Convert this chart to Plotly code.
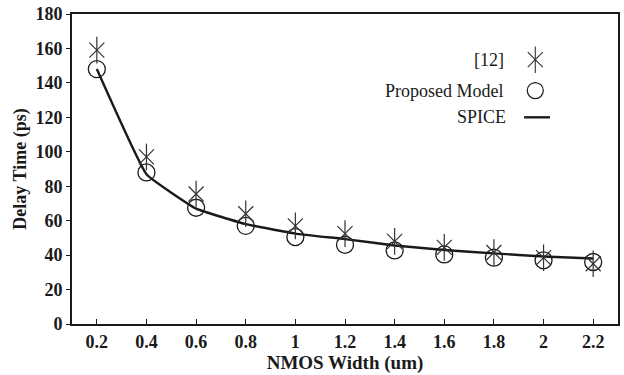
import plotly.graph_objects as go

width_um = [0.2, 0.4, 0.6, 0.8, 1.0, 1.2, 1.4, 1.6, 1.8, 2.0, 2.2]
ref12 = [159, 97, 75.5, 64, 57, 52.5, 48, 44.5, 41.5, 38.5, 35]
proposed = [148, 88, 67.5, 57, 50.5, 46, 42.7, 40.4, 38.5, 37, 36]
spice = [148, 87, 67, 58, 52.5, 49.3, 45.6, 43, 41, 39.2, 38]

x_ticks = [0.2, 0.4, 0.6, 0.8, 1, 1.2, 1.4, 1.6, 1.8, 2, 2.2]
x_tick_text = ["0.2", "0.4", "0.6", "0.8", "1", "1.2", "1.4", "1.6", "1.8", "2", "2.2"]
y_ticks = [0, 20, 40, 60, 80, 100, 120, 140, 160, 180]

legend_names = ["[12]", "Proposed Model", "SPICE"]

INK = "#1a1a1a"
MARK = "#333333"
SERIF = "Liberation Serif, Times New Roman, serif"

fig = go.Figure()

# SPICE line
fig.add_trace(go.Scatter(x=width_um, y=spice, mode="lines",
                         line=dict(color=INK, width=2.4, shape="spline", smoothing=0.3),
                         showlegend=False))
# Proposed model circles
fig.add_trace(go.Scatter(x=width_um, y=proposed, mode="markers",
                         marker=dict(symbol="circle-open", size=17, color=INK, line=dict(width=1.3, color=INK)),
                         showlegend=False))
# [12] asterisks (x + vertical bar = six-armed star)
fig.add_trace(go.Scatter(x=width_um, y=ref12, mode="markers",
                         marker=dict(symbol="x-thin-open", size=15, color=MARK, line=dict(width=1.2, color=MARK)),
                         showlegend=False))
fig.add_trace(go.Scatter(x=width_um, y=ref12, mode="markers",
                         marker=dict(symbol="line-ns-open", size=19, color=MARK, line=dict(width=1.2, color=MARK)),
                         showlegend=False))

# Custom legend (symbol to the right of text) on an overlay axis in plot-fraction units
leg_x = 0.8485
leg_y = [0.8526, 0.753, 0.6667]
text_x = [0.794, 0.794, 0.799]
fig.add_trace(go.Scatter(x=[leg_x], y=[leg_y[0]], xaxis="x2", yaxis="y2", mode="markers",
                         marker=dict(symbol="x-thin-open", size=15, color=MARK, line=dict(width=1.1, color=MARK)),
                         showlegend=False))
fig.add_trace(go.Scatter(x=[leg_x], y=[leg_y[0]], xaxis="x2", yaxis="y2", mode="markers",
                         marker=dict(symbol="line-ns-open", size=19, color=MARK, line=dict(width=1.1, color=MARK)),
                         showlegend=False))
fig.add_trace(go.Scatter(x=[leg_x], y=[leg_y[1]], xaxis="x2", yaxis="y2", mode="markers",
                         marker=dict(symbol="circle-open", size=16, color=INK, line=dict(width=1.2, color=INK)),
                         showlegend=False))
fig.add_trace(go.Scatter(x=[leg_x - 0.0205, leg_x + 0.027], y=[leg_y[2], leg_y[2]], xaxis="x2", yaxis="y2",
                         mode="lines", line=dict(color=INK, width=2.4), showlegend=False))

for name, tx, ty in zip(legend_names, text_x, leg_y):
    fig.add_annotation(x=tx, y=ty, xref="paper", yref="paper", text=name, showarrow=False,
                       xanchor="right", yanchor="middle", font=dict(family=SERIF, size=18, color=INK))

fig.update_layout(
    width=624, height=375,
    margin=dict(l=72, r=4, t=12, b=51),
    plot_bgcolor="white", paper_bgcolor="white",
    font=dict(family=SERIF, color=INK),
    xaxis=dict(range=[0.1, 2.3], tickvals=x_ticks, ticktext=x_tick_text,
               ticks="inside", ticklen=5, tickwidth=1.3, tickcolor=INK,
               showline=True, linecolor=INK, linewidth=2, mirror=True, showgrid=False, zeroline=False,
               tickfont=dict(family=SERIF, size=18, color=INK, weight="bold"),
               title=dict(text="<b>NMOS Width (um)</b>", font=dict(family=SERIF, size=19, color=INK), standoff=4)),
    yaxis=dict(range=[0, 180], tickvals=y_ticks,
               ticks="outside", ticklen=4, tickwidth=1.3, tickcolor=INK,
               showline=True, linecolor=INK, linewidth=2, mirror=True, showgrid=False, zeroline=False,
               tickfont=dict(family=SERIF, size=18, color=INK, weight="bold"),
               title=dict(text="<b>Delay Time (ps)</b>", font=dict(family=SERIF, size=18, color=INK), standoff=4)),
    xaxis2=dict(overlaying="x", range=[0, 1], visible=False, fixedrange=True),
    yaxis2=dict(overlaying="y", range=[0, 1], visible=False, fixedrange=True),
    showlegend=False,
)

fig.write_html("out.html")
